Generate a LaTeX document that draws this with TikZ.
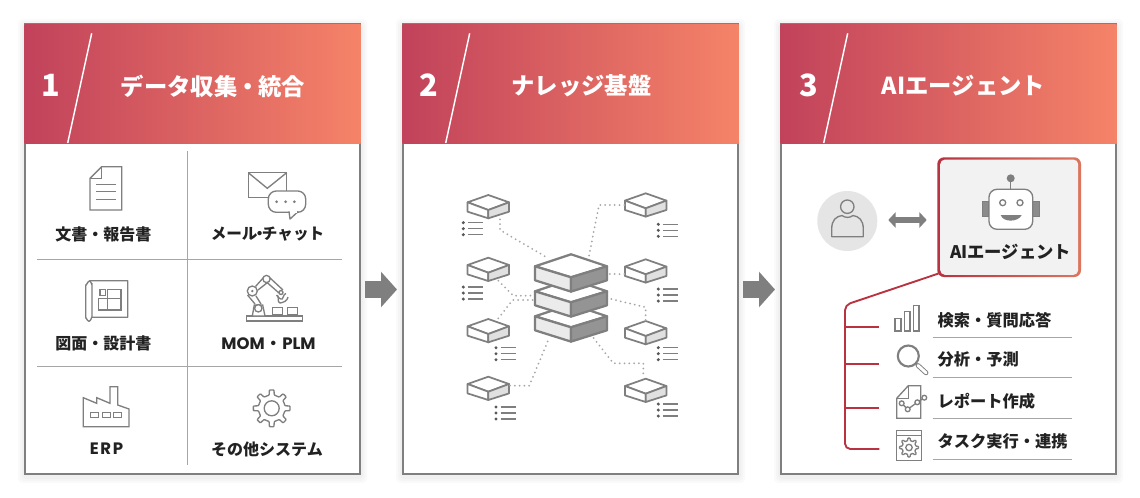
\documentclass[tikz,border=0pt]{standalone}
\usepackage{fontspec}
\setmainfont{Noto Sans CJK JP}
\newfontfamily\lat{Poppins}
\usetikzlibrary{arrows.meta,calc}
\definecolor{hL}{HTML}{C1425B}
\definecolor{hR}{HTML}{F58368}
\definecolor{ln}{HTML}{7F7F7F}
\definecolor{ink}{HTML}{222222}
\definecolor{treered}{HTML}{B8323F}
\definecolor{rule}{HTML}{A6A6A6}
\newcommand{\md}{\hspace{-.05em}・\hspace{-.05em}}
\newcommand{\mygear}[5]{% x y outer root hole
  \begin{scope}[shift={(#1,#2)}]
  \draw[icon,fill=white,rounded corners=.5pt] (-22.5:#4)
    \foreach \a in {0,45,...,315}{ -- (\a-11:#4) -- (\a-7:#3) -- (\a+7:#3) -- (\a+11:#4) } -- cycle;
  \draw[icon] (0,0) circle (#5);
  \end{scope}}
\tikzset{
  x=.75pt,y=-.75pt,
  panel/.style={draw=ln,line width=1.2pt,fill=white,minimum width=251.25pt,minimum height=337.5pt,inner sep=0pt,outer sep=0pt},
  icon/.style={draw=ln,line width=1pt,line join=miter},
  thin icon/.style={draw=ln,line width=.75pt},
  title/.style={text=white,font=\fontsize{17.5}{20}\selectfont\bfseries,inner sep=0pt},
  num/.style={text=white,font=\fontsize{23}{24}\selectfont\bfseries,inner sep=0pt},
  lab/.style={text=ink,font=\fontsize{12}{14}\selectfont\bfseries,inner sep=0pt},
  lst/.style={text=ink,font=\fontsize{12.2}{14}\selectfont\bfseries,inner sep=0pt,anchor=west},
  gridline/.style={draw=rule,line width=.75pt},
  dots/.style={draw=rule,line width=1.5pt,dash pattern=on 0pt off 3.6pt,line cap=round},
  tree/.style={draw=treered,line width=1.4pt,rounded corners=4pt},
  block/.style={draw=ln,line width=12.75pt,-{Triangle[length=12pt,width=26pt]}},
  smallcube/.pic={
    \draw[draw=ln,line width=1.3pt,line join=round,fill=white] (0,0)--(20.7,7.3)--(0,15)--(-20.7,7.3)--cycle;
    \draw[draw=ln,line width=1.3pt,line join=round,fill=white] (-20.7,7.3)--(0,15)--(0,23.3)--(-20.7,16.7)--cycle;
    \draw[draw=ln,line width=1.3pt,line join=round,fill=black!12] (20.7,7.3)--(0,15)--(0,23.3)--(20.7,16.7)--cycle;
  },
  bigcube/.pic={
    \draw[draw=ln,line width=1.7pt,line join=round,fill=white] (0,0)--(36,12)--(0,23)--(-36,12)--cycle;
    \draw[draw=ln,line width=1.7pt,line join=round,fill=black!8] (-36,12)--(0,23)--(0,37.3)--(-36,26)--cycle;
    \draw[draw=ln,line width=1.7pt,line join=round,fill=black!42] (36,12)--(0,23)--(0,37.3)--(36,26)--cycle;
  },
  listmark/.pic={
    \foreach \k in {0,6,12}{
      \fill[ln!70!black] (0,\k) circle (1.7);
      \draw[draw=ln,line width=.85pt] (4.5,\k)--(20,\k);
    }
  },
}
\begin{document}
\begin{tikzpicture}
\useasboundingbox (0,0) rectangle (1140,497);
\fill[white] (0,0) rectangle (1140,497);
% soft shadow
\foreach \px in {25,403,781}{
  \foreach \o in {7,5,3}{
    \fill[black,opacity=.018,rounded corners=3pt] (\px-\o,24-\o+2) rectangle (\px+335+\o,474+\o+2);
  }
}
% panels
\node[panel] (p1) at (192.5,249) {};
\node[panel] (p2) at (570.5,249) {};
\node[panel] (p3) at (948.5,249) {};
% headers
\foreach \px/\n in {25/1,403/2,781/3}{
  \shade[left color=hL,right color=hR] (\px-.5,24) rectangle (\px+335.5,143);
  \draw[white,line width=1.1pt] (\px+66.7,33.3) -- (\px+42.7,143);
}
\node[num] (n1) at (51,85) {1};
\node[num] (n2) at (428.7,85) {2};
\node[num] (n3) at (809,85) {3};
\node[title] (t1) at (213,86) {データ収集\md 統合};
\node[title] (t2) at (581.5,86) {ナレッジ基盤};
\node[title] (t3) at (963.5,86) {AIエージェント};
% block arrows
\coordinate (a1s) at (365,289.5); \coordinate (a1e) at (397,289.5);
\coordinate (a2s) at (743,289.5); \coordinate (a2e) at (775,289.5);
\draw[block] (a1s) -- (a1e);
\draw[block] (a2s) -- (a2e);
% panel 1 grid
\draw[gridline] (187.7,151) -- (187.7,465);
\draw[gridline] (37,259.5) -- (342,259.5);
\draw[gridline] (37,366.3) -- (342,366.3);
% panel 1 labels
\node[lab] (l1) at (103.3,234) {文書・報告書};
\node[lab,font=\fontsize{11.7}{14}\selectfont\bfseries] (l2) at (267.5,234) {メール\hspace{-.36em}・\hspace{-.36em}チャット};
\node[lab] (l3) at (103.3,343.5) {図面・設計書};
\node[lab] (l4) at (268.5,343.5) {{\lat\fontsize{12.4}{14}\selectfont MOM}\hspace{.05em}・\hspace{.05em}{\lat\fontsize{12.4}{14}\selectfont PLM}};
\node[lab] (l5) at (106.5,448.5) {\lat\fontsize{12.4}{14}\selectfont E\hspace{.1em}R\hspace{.1em}P};
\node[lab] (l6) at (267,449) {その他システム};
% document icon
\draw[icon] (90,178.3)--(101.7,166.7)--(121.7,166.7)--(121.7,210)--(90,210)--cycle;
\draw[icon] (101.7,166.7)--(101.7,178.3)--(90,178.3);
\foreach \yy in {184.3,191.7,199}{\draw[thin icon] (96,\yy)--(116,\yy);}
% mail icon
\draw[icon] (248.3,172.7) rectangle (286.7,197.7);
\draw[icon] (248.3,172.7)--(267.3,188.3)--(286.7,172.7);
\draw[icon,fill=white,rounded corners=6pt] (268.3,191) rectangle (305.7,212.3);
\draw[icon,fill=white,line join=round] (289,211.4)--(290,219)--(298.3,211.4);
\fill[white] (289.8,210.4) rectangle (297.4,212.6);
\foreach \xx in {276.7,285.7,294.3}{\fill[ln] (\xx,201.7) circle (1.5);}
% blueprint icon
\draw[icon,line join=round] (127.7,280.7)--(90,280.7) to[out=180,in=-90] (85.7,285)--(85.7,318) to[out=90,in=180] (89,321.3) to[out=0,in=90] (92,317.3)--(127.7,317.3)--cycle;
\draw[icon] (92,317.3)--(92,284.5) to[out=-90,in=0] (89.5,281);
\draw[icon] (98.3,298.7) rectangle (121,310);
\draw[icon] (107.5,289.3) rectangle (121,298.7);
\draw[icon] (107.5,298.7)--(107.5,310);
\draw[icon] (100,289.3) rectangle (105.5,295.5);
% robot arm icon
\draw[icon,fill=white] (246.7,316) rectangle (302.3,321);
\draw[icon,fill=white] (252.3,316)--(254.3,305)--(262.7,305)--(265,316)--cycle;
\draw[icon,fill=white] (272.3,307.3) rectangle (282.3,314.3);
\draw[icon,fill=white] (287.7,307.3) rectangle (297.7,314.3);
\draw[icon] (255,304)--(247.5,295); \draw[icon] (261,304)--(256,296);
\draw[icon] (255.5,286.5)--(264,277); \draw[icon] (258,290)--(267.5,282.5);
\draw[icon] (269,277)--(283,290); \draw[icon] (266.5,282)--(279,293);
\draw[icon,fill=white] (258.3,308.3) circle (3.7);
\draw[icon,fill=white] (252.3,291) circle (5);
\fill[ln] (252.3,291) circle (1.3);
\draw[icon,fill=white] (266.5,279) circle (3.6);
\draw[icon] (281,292.5) circle (2);
\draw[icon] (276.5,296) to[out=90,in=180] (281,299) to[out=-45,in=180] (286,293.5);
\draw[icon] (277.5,295) to[out=-60,in=160] (280,303) to[out=10,in=-100] (288,297);
% factory icon
\draw[icon] (83.3,426.7)--(83.3,397.7)--(96.7,403.3)--(96.7,397.7)--(110,403.3)--(110,386.7)--(117.7,386.7)--(117.7,405)--(129,409)--(129,426.7)--cycle;
\draw[thin icon] (90.7,412.7) rectangle (98.3,417.7);
\draw[thin icon] (102.3,412.7) rectangle (110,417.7);
\draw[thin icon] (113.3,412.7) rectangle (121,417.7);
% gear icon
\mygear{271.7}{408.3}{18.5}{13.5}{7.5}
% panel 2 : cubes
\pic at (488.3,195) {smallcube};
\pic at (488.3,257.7) {smallcube};
\pic at (488.3,319) {smallcube};
\pic at (488.3,376.7) {smallcube};
\pic at (645.7,193.3) {smallcube};
\pic at (645.7,259.3) {smallcube};
\pic at (645.7,321) {smallcube};
\pic at (645.7,378.7) {smallcube};
\pic at (463.3,222.7) {listmark};
\pic at (463.3,287) {listmark};
\pic at (496,347.7) {listmark};
\pic at (496,407) {listmark};
\pic at (658.3,224.3) {listmark};
\pic at (658.3,289) {listmark};
\pic at (658.3,347.7) {listmark};
\pic at (658.3,404) {listmark};
\coordinate (cL1) at (500,219.3); \coordinate (hL1) at (548.3,258.3);
\coordinate (cL2) at (498.3,280.7); \coordinate (hL2) at (534.3,295.7);
\coordinate (cL3) at (498.3,318.3); \coordinate (hL3) at (534.3,300);
\coordinate (cL4) at (510,385.7); \coordinate (hL4) at (548.3,340);
\coordinate (cR1) at (624.3,205); \coordinate (hR1) at (589,256);
\coordinate (cR2) at (624.3,274); \coordinate (hR2) at (608.3,274);
\coordinate (cR3) at (645.7,320); \coordinate (hR3) at (608.3,298.3);
\coordinate (cR4) at (643.3,373.3); \coordinate (hR4) at (593.3,337.7);
\draw[dots] (cL1) -- (500,230) -- (hL1);
\draw[dots] (cL2) -- (513.3,295.7) -- (hL2);
\draw[dots] (cL3) -- (512.7,300) -- (hL3);
\draw[dots] (cL4) -- (529.3,385.7) -- (hL4);
\draw[dots] (cR1) -- (599,205) -- (hR1);
\draw[dots] (cR2) -- (hR2);
\draw[dots] (cR3) -- (645.7,307.3) -- (hR3);
\draw[dots] (cR4) -- (643.3,363.3) -- (613.3,363.3) -- (hR4);
\pic at (571,304.3) {bigcube};
\pic at (571,279.3) {bigcube};
\pic at (571,254.3) {bigcube};
% panel 3 : user
\fill[black!10] (847.3,221) circle (30);
\draw[icon] (847.3,206.7) circle (6.7);
\draw[icon,line join=round] (831.7,236.7)--(831.7,229) .. controls (831.7,220) and (836,216.5) .. (842,215.5) .. controls (845,218) and (850,218) .. (853,215.5) .. controls (859,216.5) and (863.3,220) .. (863.3,229) -- (863.3,236.7) -- cycle;
\coordinate (dA) at (888.3,220); \coordinate (dB) at (926.7,220);
\draw[draw=ln,line width=4pt,{Triangle[length=5.5pt,width=11.5pt]}-{Triangle[length=5.5pt,width=11.5pt]}] (dA) -- (dB);
% AI box
\shade[left color=treered,right color=hR!90!black,rounded corners=5pt] (937.3,157.3) rectangle (1081,277);
\node[fill=black!5,rounded corners=3.6pt,minimum width=103.5pt,minimum height=86.5pt,inner sep=0pt] (ai) at (1009.2,217.2) {};
\draw[icon,fill=black!45,draw=ln] (982.7,201.7) rectangle (989,216.7);
\draw[icon,fill=black!45,draw=ln] (1032.7,201.7) rectangle (1039.3,216.7);
\draw[icon] (1010.7,180)--(1010.7,189.3);
\fill[ln] (1010.7,178.3) circle (4);
\draw[icon,fill=white,rounded corners=6pt] (989,189.3) rectangle (1032.7,229.3);
\draw[icon] (1002.7,202.7) circle (3);
\draw[icon] (1020,202.7) circle (3);
\fill[ln] (1000.7,215) .. controls (1003,222.5) and (1018,222.5) .. (1021.7,215) -- cycle;
\node[lab,font=\fontsize{13}{15}\selectfont\bfseries] (ait) at (1010.7,252) {AIエージェント};
% tree
\coordinate (t0) at (938.3,273.6);
\coordinate (b1) at (879.3,327.3); \coordinate (b2) at (879.3,364.3);
\coordinate (b3) at (879.3,407.7); \coordinate (b4) at (879.3,449);
\draw[tree] (t0) -- (845,305) -- (845,449) -- (b4);
\draw[tree] (845,327.3) -- (b1);
\draw[tree] (845,364.3) -- (b2);
\draw[tree] (845,407.7) -- (b3);
% list
\node[lst] (r1) at (937.3,320) {検索・質問応答};
\node[lst] (r2) at (937.3,359.3) {分析・予測};
\node[lst] (r3) at (937.3,401.7) {レポート作成};
\node[lst] (r4) at (937.3,441.7) {タスク実行・連携};
\foreach \yy in {337.3,377.7,418.3,459}{\draw[gridline] (932.7,\yy)--(1071.7,\yy);}
% bars icon
\draw[icon] (895,318.3) rectangle (901,331);
\draw[icon] (904.3,311.7) rectangle (910,331);
\draw[icon] (913.3,305.7) rectangle (919,331);
% magnifier
\draw[draw=ln,line width=3.6pt,line cap=round] (918,365.5)--(926,372.8);
\draw[white,line width=2.2pt,line cap=round] (918,365.5)--(926,372.8);
\draw[icon,line width=1.6pt] (908.3,356) circle (10.5);
% report icon
\draw[icon] (896.7,398.3)--(908.3,385.7)--(920.7,385.7)--(920.7,418.3)--(896.7,418.3)--cycle;
\draw[icon] (908.3,385.7)--(908.3,398.3)--(896.7,398.3);
\draw[icon] (901.7,403.3)--(907.7,409.3)--(917.3,402.3)--(924.3,397.7);
\foreach \xx/\yy in {901.7/403.3,907.7/409.3,917.3/402.3,924.3/397.7}{\draw[icon,fill=white] (\xx,\yy) circle (2.4);}
% window icon
\draw[thin icon] (896.7,430.7) rectangle (921.7,460);
\draw[thin icon] (896.7,435) -- (921.7,435);
\mygear{909}{447.5}{9.5}{7}{3.2}
\end{tikzpicture}
\end{document}
